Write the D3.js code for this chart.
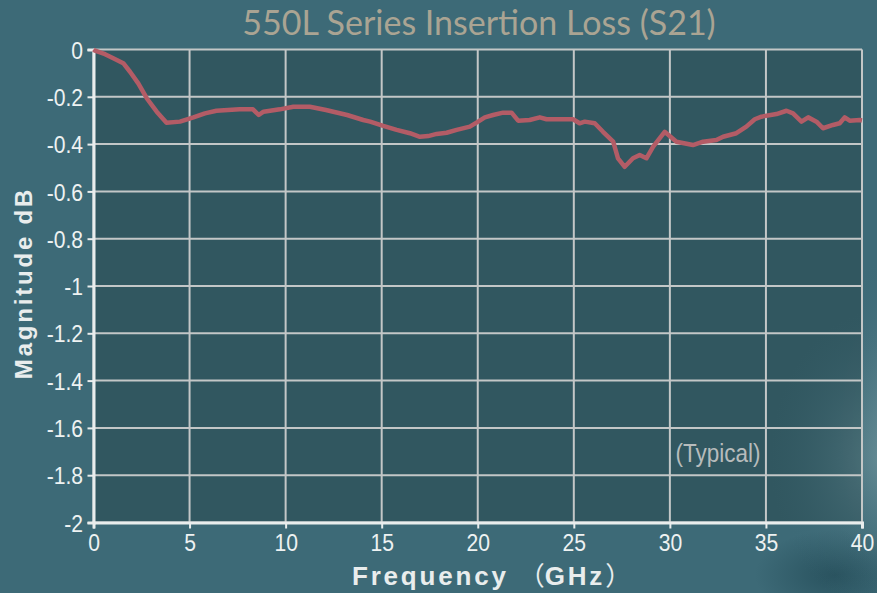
<!DOCTYPE html>
<html><head><meta charset="utf-8">
<script src="https://cdn.jsdelivr.net/npm/d3@7"></script>
<style>html,body{margin:0;padding:0;background:#3d6a77;}svg{display:block;}</style>
</head><body>
<svg id="chart" width="877" height="593"></svg>
<script>
const freqGHz = [0,0.08,0.6,1.03,1.55,1.9,2.33,2.77,3.29,3.8,4.5,5.2,5.8,6.4,7.6,8.3,8.6,8.85,9.7,10.4,11.26,12.1,13.2,14.04,14.4,15.08,15.78,16.47,16.99,17.42,17.86,18.38,18.9,19.59,20.02,20.37,20.8,21.32,21.76,22.1,22.7,23.23,23.58,24.96,25.3,25.57,26.09,26.52,27.05,27.3,27.65,28.08,28.43,28.78,29.13,29.73,30.34,31.2,31.73,32.42,32.77,33.46,33.98,34.42,34.77,35.55,36.07,36.41,36.85,37.2,37.63,37.97,38.49,38.84,39.1,39.36,39.88,40];
const magnitudeDB = [0,-0.005,-0.02,-0.037,-0.058,-0.094,-0.143,-0.206,-0.263,-0.31,-0.305,-0.287,-0.27,-0.259,-0.253,-0.253,-0.277,-0.263,-0.253,-0.242,-0.242,-0.256,-0.277,-0.298,-0.305,-0.323,-0.34,-0.354,-0.369,-0.366,-0.357,-0.352,-0.34,-0.326,-0.305,-0.287,-0.277,-0.267,-0.267,-0.301,-0.298,-0.287,-0.295,-0.295,-0.312,-0.305,-0.312,-0.348,-0.39,-0.46,-0.496,-0.46,-0.446,-0.46,-0.411,-0.348,-0.39,-0.404,-0.39,-0.383,-0.369,-0.354,-0.326,-0.295,-0.284,-0.273,-0.259,-0.27,-0.305,-0.287,-0.305,-0.333,-0.319,-0.312,-0.287,-0.301,-0.298,-0.3];
const xTicks = [0,5,10,15,20,25,30,35,40];
const yTicks = [0,-0.2,-0.4,-0.6,-0.8,-1,-1.2,-1.4,-1.6,-1.8,-2];
const titleText = "550L Series Insertion Loss (S21)";
const xLabelParts = ["Frequency ", "（", "GHz", "）"];
const yLabel = "Magnitude dB";
const noteText = "(Typical)";

const svg = d3.select("#chart");
const W = 877, H = 593;
const plot = {left: 93.5, right: 862, top: 49.5, bottom: 522.5};

// background
const defs = svg.append("defs");
const rg = defs.append("radialGradient").attr("id","glow").attr("cx","0.5").attr("cy","0.5").attr("r","0.5");
rg.append("stop").attr("offset","0%").attr("stop-color","#7d9fa6").attr("stop-opacity",0.85);
rg.append("stop").attr("offset","100%").attr("stop-color","#3d6a77").attr("stop-opacity",0);
const rg2 = defs.append("radialGradient").attr("id","dark").attr("cx","0.5").attr("cy","0.5").attr("r","0.5");
rg2.append("stop").attr("offset","0%").attr("stop-color","#224a56").attr("stop-opacity",0.75);
rg2.append("stop").attr("offset","100%").attr("stop-color","#224a56").attr("stop-opacity",0);
svg.append("rect").attr("width",W).attr("height",H).attr("fill","#3d6a77");
svg.append("ellipse").attr("cx",905).attr("cy",430).attr("rx",80).attr("ry",190).attr("fill","url(#glow)");
svg.append("ellipse").attr("cx",835).attr("cy",575).attr("rx",80).attr("ry",45).attr("fill","url(#dark)");

const x = d3.scaleLinear().domain([0,40]).range([plot.left, plot.right]);
const y = d3.scaleLinear().domain([-2,0]).range([plot.bottom, plot.top]);

svg.append("rect").attr("x",plot.left).attr("y",plot.top)
  .attr("width",plot.right-plot.left).attr("height",plot.bottom-plot.top)
  .attr("fill","#31565f").attr("fill-opacity",0.94);
// faint light patch inside plot, bottom-right
svg.append("ellipse").attr("cx",880).attr("cy",460).attr("rx",110).attr("ry",150)
  .attr("fill","url(#glow)").attr("opacity",0.45);

// grid
const grid = svg.append("g").attr("stroke","#c3c7c7").attr("stroke-width",2);
grid.selectAll("line.h").data(yTicks).join("line")
  .attr("x1",plot.left).attr("x2",plot.right).attr("y1",d=>y(d)).attr("y2",d=>y(d));
grid.selectAll("line.v").data(xTicks).join("line")
  .attr("y1",plot.top).attr("y2",plot.bottom).attr("x1",d=>x(d)).attr("x2",d=>x(d));

const tickFont = "'Liberation Sans',Arial,sans-serif";
const sx = 0.88;

// axes
const xAxis = svg.append("g").attr("transform",`translate(0,${plot.bottom})`)
  .call(d3.axisBottom(x).tickValues(xTicks).tickFormat(d3.format("d")).tickSize(6).tickPadding(6));
const yAxis = svg.append("g").attr("transform",`translate(${plot.left},0)`)
  .call(d3.axisLeft(y).tickValues(yTicks).tickFormat(d=>d===0?"0":String(d)).tickSize(6).tickPadding(4));
[xAxis,yAxis].forEach(a=>{
  a.select(".domain").attr("stroke","#e9eded").attr("stroke-width",3);
  a.selectAll(".tick line").attr("stroke","#e9eded").attr("stroke-width",2);
  a.selectAll(".tick text").attr("fill","#eef2f2").attr("font-family",tickFont).attr("font-size",24)
    .attr("transform",`scale(${sx},1)`);
});
yAxis.selectAll(".tick text").attr("x",-10.5/sx).attr("dy","0.36em");
xAxis.selectAll(".tick text").attr("y",11).attr("dy","0.71em");

// line
const line = d3.line().x((d,i)=>x(freqGHz[i])).y(d=>y(d));
svg.append("path").datum(magnitudeDB).attr("d",line)
  .attr("fill","none").attr("stroke","#b35c66").attr("stroke-width",4.5)
  .attr("stroke-linejoin","round");

// texts
svg.append("text").attr("x",479).attr("y",35).attr("text-anchor","middle")
  .attr("font-family","Lato,'Open Sans',sans-serif").attr("font-size",34)
  .attr("fill","#aaa493").text(titleText);
svg.append("text").attr("transform","translate(32,283) rotate(-90)").attr("text-anchor","middle")
  .attr("font-family","'Liberation Sans',Arial,sans-serif").attr("font-weight","bold")
  .attr("font-size",24).attr("letter-spacing",2.8).attr("fill","#e9eded").text(yLabel);
const xl = svg.append("text").attr("x",352).attr("y",585).attr("text-anchor","start")
  .attr("font-family","'Liberation Sans',Arial,sans-serif").attr("font-weight","bold")
  .attr("font-size",26).attr("letter-spacing",2.8).attr("fill","#e9eded");
xLabelParts.forEach((p,i)=>{
  const t = xl.append("tspan").text(p);
  if (i===1 || i===3) t.attr("font-family","'Noto Sans CJK JP','Noto Sans CJK SC',sans-serif").attr("font-weight","normal").attr("letter-spacing",0);
});
svg.append("text").attr("x",718).attr("y",462).attr("text-anchor","middle")
  .attr("font-family",tickFont).attr("font-size",25).attr("transform","translate(718,0) scale(0.9,1) translate(-718,0)")
  .attr("fill","#b7bcbc").text(noteText);
</script>
</body></html>
